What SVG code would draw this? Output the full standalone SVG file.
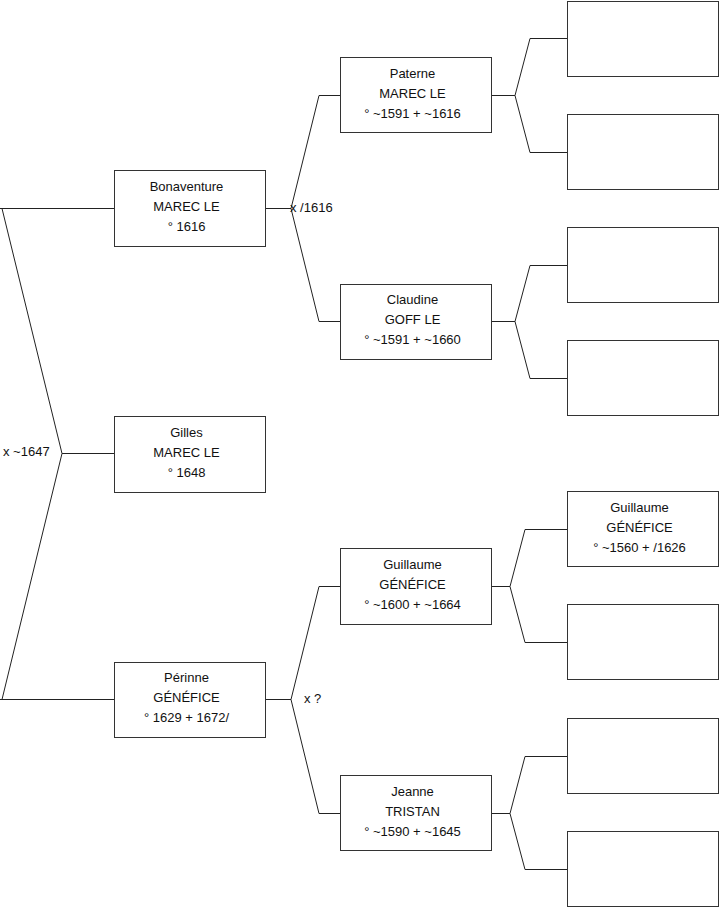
<svg xmlns="http://www.w3.org/2000/svg" width="719" height="908" viewBox="0 0 719 908">
<style>
.box{fill:#fff;stroke:#333;stroke-width:1}
.c{fill:none;stroke:#222;stroke-width:1}
text{font-family:"Liberation Sans",Arial,sans-serif;font-size:13px;fill:#111}
.m{text-anchor:middle}
</style>
<rect width="719" height="908" fill="#fff"/>
<g id="connectors">
<path class="c" d="M0,208.5H114 M2,208.5L62,453.5L2,699.5 M62,453.5H114 M0,699.5H114"/>
<path class="c" d="M265,208.5H291 M340,95.5H319L291,208.5L319,321.5H340"/>
<path class="c" d="M265,699.5H291 M340,586.5H319L291,699.5L319,813.5H340"/>
<path class="c" d="M492,95.5H515 M567,38.5H530L515,95.5L530,152.5H567"/>
<path class="c" d="M492,321.5H515 M567,265.5H530L515,321.5L530,378.5H567"/>
<path class="c" d="M492,586.5H510 M567,529.5H525L510,586.5L525,642.5H567"/>
<path class="c" d="M492,813.5H510 M567,756.5H525L510,813.5L525,869.5H567"/>
<text x="3" y="456">x ~1647</text>
<text x="290" y="212">x /1616</text>
<text x="304" y="703">x ?</text>
</g>
<g id="bonaventure"><rect class="box" x="114.5" y="170.5" width="151" height="76"/>
<text class="m" x="186.5" y="191">Bonaventure</text><text class="m" x="186.5" y="211">MAREC LE</text><text class="m" x="186.5" y="231">° 1616</text></g>
<g id="gilles"><rect class="box" x="114.5" y="416.5" width="151" height="76"/>
<text class="m" x="186.5" y="437">Gilles</text><text class="m" x="186.5" y="457">MAREC LE</text><text class="m" x="186.5" y="477">° 1648</text></g>
<g id="perinne"><rect class="box" x="114.5" y="662.5" width="151" height="75"/>
<text class="m" x="186.5" y="682">Périnne</text><text class="m" x="186.5" y="702">GÉNÉFICE</text><text class="m" x="186.5" y="722">° 1629 + 1672/</text></g>
<g id="paterne"><rect class="box" x="340.5" y="57.5" width="151" height="75"/>
<text class="m" x="412.5" y="78">Paterne</text><text class="m" x="412.5" y="98">MAREC LE</text><text class="m" x="412.5" y="118">° ~1591 + ~1616</text></g>
<g id="claudine"><rect class="box" x="340.5" y="284.5" width="151" height="75"/>
<text class="m" x="412.5" y="304">Claudine</text><text class="m" x="412.5" y="324">GOFF LE</text><text class="m" x="412.5" y="344">° ~1591 + ~1660</text></g>
<g id="guillaume1"><rect class="box" x="340.5" y="548.5" width="151" height="76"/>
<text class="m" x="412.5" y="569">Guillaume</text><text class="m" x="412.5" y="589">GÉNÉFICE</text><text class="m" x="412.5" y="609">° ~1600 + ~1664</text></g>
<g id="jeanne"><rect class="box" x="340.5" y="775.5" width="151" height="75"/>
<text class="m" x="412.5" y="796">Jeanne</text><text class="m" x="412.5" y="816">TRISTAN</text><text class="m" x="412.5" y="836">° ~1590 + ~1645</text></g>
<g id="p1"><rect class="box" x="567.5" y="1.5" width="151" height="75"/></g>
<g id="p2"><rect class="box" x="567.5" y="114.5" width="151" height="75"/></g>
<g id="p3"><rect class="box" x="567.5" y="227.5" width="151" height="75"/></g>
<g id="p4"><rect class="box" x="567.5" y="340.5" width="151" height="75"/></g>
<g id="guillaume2"><rect class="box" x="567.5" y="491.5" width="151" height="75"/>
<text class="m" x="639.5" y="512">Guillaume</text><text class="m" x="639.5" y="532">GÉNÉFICE</text><text class="m" x="639.5" y="552">° ~1560 + /1626</text></g>
<g id="p6"><rect class="box" x="567.5" y="604.5" width="151" height="75"/></g>
<g id="p7"><rect class="box" x="567.5" y="718.5" width="151" height="75"/></g>
<g id="p8"><rect class="box" x="567.5" y="831.5" width="151" height="75"/></g>
</svg>
